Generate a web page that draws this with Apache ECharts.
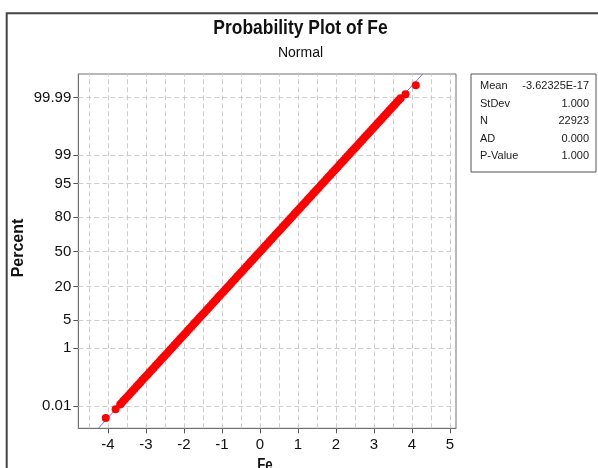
<!DOCTYPE html>
<html>
<head>
<meta charset="utf-8">
<script src="https://cdn.jsdelivr.net/npm/echarts@6/dist/echarts.min.js"></script>
<style>
  html, body { margin: 0; padding: 0; background: #ffffff; }
  #chart { width: 598px; height: 468px; }
</style>
</head>
<body>
<div id="chart"></div>
<script>
// Fe observations (standardized) and their plotting positions in percent
const feValues = [
  -4.06, -3.80, -3.68, -3.65, -3.6, -3.55, -3.5, -3.45, -3.4, -3.35, -3.3, -3.25, -3.2, -3.15, -3.1, -3.05,
  -3.0, -2.95, -2.9, -2.85, -2.8, -2.75, -2.7, -2.65, -2.6, -2.55, -2.5, -2.45, -2.4, -2.35, -2.3, -2.25,
  -2.2, -2.15, -2.1, -2.05, -2.0, -1.95, -1.9, -1.85, -1.8, -1.75, -1.7, -1.65, -1.6, -1.55, -1.5, -1.45,
  -1.4, -1.35, -1.3, -1.25, -1.2, -1.15, -1.1, -1.05, -1.0, -0.95, -0.9, -0.85, -0.8, -0.75, -0.7, -0.65,
  -0.6, -0.55, -0.5, -0.45, -0.4, -0.35, -0.3, -0.25, -0.2, -0.15, -0.1, -0.05, 0.0,
  0.05, 0.1, 0.15, 0.2, 0.25, 0.3, 0.35, 0.4, 0.45, 0.5, 0.55, 0.6, 0.65, 0.7, 0.75, 0.8,
  0.85, 0.9, 0.95, 1.0, 1.05, 1.1, 1.15, 1.2, 1.25, 1.3, 1.35, 1.4, 1.45, 1.5, 1.55, 1.6,
  1.65, 1.7, 1.75, 1.8, 1.85, 1.9, 1.95, 2.0, 2.05, 2.1, 2.15, 2.2, 2.25, 2.3, 2.35, 2.4,
  2.45, 2.5, 2.55, 2.6, 2.65, 2.7, 2.75, 2.8, 2.85, 2.9, 2.95, 3.0, 3.05, 3.1, 3.15, 3.2,
  3.25, 3.3, 3.35, 3.4, 3.45, 3.5, 3.55, 3.6, 3.65, 3.70, 3.83, 4.10
];
const percentValues = [
  0.00305, 0.0074, 0.01166, 0.0131, 0.0159, 0.0193, 0.0233, 0.0280, 0.0337, 0.0404, 0.0483, 0.0577, 0.0687, 0.0816, 0.0968, 0.1144,
  0.135, 0.1589, 0.187, 0.2186, 0.256, 0.2980, 0.347, 0.4025, 0.466, 0.5386, 0.621, 0.7143, 0.820, 0.9387, 1.072, 1.2224,
  1.390, 1.5778, 1.786, 2.0182, 2.275, 2.5588, 2.872, 3.2157, 3.593, 4.0059, 4.457, 4.9471, 5.480, 6.0571, 6.681, 7.3529,
  8.076, 8.8508, 9.680, 10.565, 11.507, 12.507, 13.567, 14.686, 15.866, 17.106, 18.406, 19.766, 21.186, 22.663, 24.196, 25.785,
  27.425, 29.116, 30.854, 32.636, 34.458, 36.317, 38.209, 40.129, 42.074, 44.038, 46.017, 48.006, 50.0,
  51.994, 53.983, 55.962, 57.926, 59.871, 61.791, 63.683, 65.542, 67.364, 69.146, 70.884, 72.575, 74.215, 75.804, 77.337, 78.814,
  80.234, 81.594, 82.894, 84.134, 85.314, 86.433, 87.493, 88.493, 89.435, 90.320, 91.149, 91.924, 92.647, 93.319, 93.943, 94.520,
  95.053, 95.543, 95.994, 96.407, 96.784, 97.128, 97.441, 97.725, 97.982, 98.214, 98.422, 98.610, 98.778, 98.928, 99.061, 99.180,
  99.286, 99.379, 99.461, 99.534, 99.598, 99.653, 99.702, 99.744, 99.781, 99.813, 99.841, 99.865, 99.8856, 99.9032, 99.9184, 99.9313,
  99.9423, 99.9517, 99.9596, 99.9663, 99.9720, 99.9767, 99.9807, 99.9841, 99.9869, 99.9892, 99.9926, 99.99695
];

// Probability-scale ticks (percent) and their labels
const percentTicks = [0.01, 1, 5, 20, 50, 80, 95, 99, 99.99];
const percentTickLabels = ['0.01', '1', '5', '20', '50', '80', '95', '99', '99.99'];

// Fe axis ticks and dashed reference lines
const feTicks = [-4, -3, -2, -1, 0, 1, 2, 3, 4, 5];
const feGridLines = [-4.5, -4, -3.5, -3, -2.5, -2, -1.5, -1, -0.5, 0, 0.5, 1, 1.5, 2, 2.5, 3, 3.5, 4, 4.5, 5];

// Summary statistics
const statNames = ['Mean', 'StDev', 'N', 'AD', 'P-Value'];
const statTexts = ['-3.62325E-17', '1.000', '22923', '0.000', '1.000'];
const fitMean = -3.62325e-17;
const fitStDev = 1.0;

// Inverse standard normal CDF (Acklam's rational approximation)
function normalQuantile(p) {
  const a = [-3.969683028665376e+01, 2.209460984245205e+02, -2.759285104469687e+02,
             1.383577518672690e+02, -3.066479806614716e+01, 2.506628277459239e+00];
  const b = [-5.447609879822406e+01, 1.615858368580409e+02, -1.556989798598866e+02,
             6.680131188771972e+01, -1.328068155288572e+01];
  const c = [-7.784894002430293e-03, -3.223964580411365e-01, -2.400758277161838e+00,
             -2.549732539343734e+00, 4.374664141464968e+00, 2.938163982698783e+00];
  const d = [7.784695709041462e-03, 3.224671290700398e-01, 2.445134137142996e+00,
             3.754408661907416e+00];
  const plow = 0.02425, phigh = 1 - plow;
  let q, r;
  if (p < plow) {
    q = Math.sqrt(-2 * Math.log(p));
    return (((((c[0]*q+c[1])*q+c[2])*q+c[3])*q+c[4])*q+c[5]) /
           ((((d[0]*q+d[1])*q+d[2])*q+d[3])*q+1);
  }
  if (p <= phigh) {
    q = p - 0.5; r = q * q;
    return (((((a[0]*r+a[1])*r+a[2])*r+a[3])*r+a[4])*r+a[5])*q /
           (((((b[0]*r+b[1])*r+b[2])*r+b[3])*r+b[4])*r+1);
  }
  q = Math.sqrt(-2 * Math.log(1 - p));
  return -(((((c[0]*q+c[1])*q+c[2])*q+c[3])*q+c[4])*q+c[5]) /
          ((((d[0]*q+d[1])*q+d[2])*q+d[3])*q+1);
}
const toScore = pct => normalQuantile(pct / 100);

const tickScores = percentTicks.map(toScore);
const Y_MIN = -4.255, Y_MAX = 4.282;
const X_MIN = -4.782, X_MAX = 5.158;

const points = feValues.map((v, i) => [v, toScore(percentValues[i])]);
const fitLine = [
  [fitMean + fitStDev * Y_MIN, Y_MIN],
  [fitMean + fitStDev * Y_MAX, Y_MAX]
];

function labelForScore(v) {
  let best = 0;
  for (let i = 1; i < tickScores.length; i++) {
    if (Math.abs(tickScores[i] - v) < Math.abs(tickScores[best] - v)) best = i;
  }
  return percentTickLabels[best];
}

const FONT = '"Liberation Sans", Arial, "DejaVu Sans", sans-serif';
const gridLineStyle = { color: '#cccccc', width: 1, type: [5, 3] };

const chart = echarts.init(document.getElementById('chart'), null, { renderer: 'canvas' });

const statGraphics = [];
statNames.forEach((name, i) => {
  const y = 86 + 17.6 * i;
  statGraphics.push({
    type: 'text', x: 480, y: y,
    style: { text: name, font: '11px ' + FONT, fill: '#1a1a1a', textAlign: 'left', textVerticalAlign: 'middle' }
  });
  statGraphics.push({
    type: 'text', x: 589, y: y,
    style: { text: statTexts[i], font: '11px ' + FONT, fill: '#1a1a1a', textAlign: 'right', textVerticalAlign: 'middle' }
  });
});

chart.setOption({
  animation: false,
  backgroundColor: '#ffffff',
  grid: {
    left: 78.3, right: 142, top: 74, bottom: 39.7,
    show: true, borderColor: '#707070', borderWidth: 1, backgroundColor: 'transparent'
  },
  xAxis: {
    type: 'value', min: X_MIN, max: X_MAX,
    axisLine: { show: true, onZero: false, lineStyle: { color: '#707070', width: 1 } },
    axisTick: { show: true, inside: false, length: 5, customValues: feTicks, lineStyle: { color: '#555555' } },
    axisLabel: { customValues: feTicks, margin: 9, fontSize: 15, fontFamily: FONT, color: '#111111' },
    splitLine: { show: false }
  },
  yAxis: {
    type: 'value', min: Y_MIN, max: Y_MAX,
    axisLine: { show: true, onZero: false, lineStyle: { color: '#707070', width: 1 } },
    axisTick: { show: true, inside: false, length: 5, customValues: tickScores, lineStyle: { color: '#555555' } },
    axisLabel: { customValues: tickScores, margin: 7, fontSize: 15, fontFamily: FONT, color: '#111111',
                 formatter: v => labelForScore(v) },
    splitLine: { show: false }
  },
  series: [
    {
      name: 'Fit',
      type: 'line',
      data: fitLine,
      showSymbol: false,
      symbol: 'none',
      clip: true,
      z: 2,
      lineStyle: { color: '#7070ff', width: 1 },
      markLine: {
        silent: true,
        z: 1,
        symbol: ['none', 'none'],
        label: { show: false },
        lineStyle: gridLineStyle,
        emphasis: { disabled: true },
        data: feGridLines.map(v => ({ xAxis: v }))
          .concat(tickScores.map(s => ({ yAxis: s })))
      }
    },
    {
      name: 'Fe',
      type: 'scatter',
      data: points,
      symbol: 'circle',
      symbolSize: 8,
      z: 3,
      itemStyle: { color: '#ff0000', opacity: 1 }
    }
  ],
  graphic: [
    // outer frame (top and left edges)
    { type: 'polyline', shape: { points: [[6.7, 468], [6.7, 13.3], [598, 13.3]] },
      style: { stroke: '#444444', lineWidth: 2, fill: null } },
    { type: 'text', x: 300.5, y: 28.5, scaleX: 0.83,
      style: { text: 'Probability Plot of Fe', font: 'bold 21px ' + FONT, fill: '#111111',
               textAlign: 'center', textVerticalAlign: 'middle' } },
    { type: 'text', x: 300.5, y: 53,
      style: { text: 'Normal', font: '14px ' + FONT, fill: '#111111',
               textAlign: 'center', textVerticalAlign: 'middle' } },
    { type: 'text', x: 18.5, y: 248, rotation: Math.PI / 2,
      style: { text: 'Percent', font: 'bold 16px ' + FONT, fill: '#111111',
               textAlign: 'center', textVerticalAlign: 'middle' } },
    { type: 'text', x: 265, y: 466, scaleX: 0.83,
      style: { text: 'Fe', font: 'bold 16px ' + FONT, fill: '#111111',
               textAlign: 'center', textVerticalAlign: 'middle' } },
    { type: 'rect', shape: { x: 471, y: 74, width: 125, height: 98 },
      style: { stroke: '#555555', lineWidth: 1, fill: 'none' } }
  ].concat(statGraphics)
});
</script>
</body>
</html>
